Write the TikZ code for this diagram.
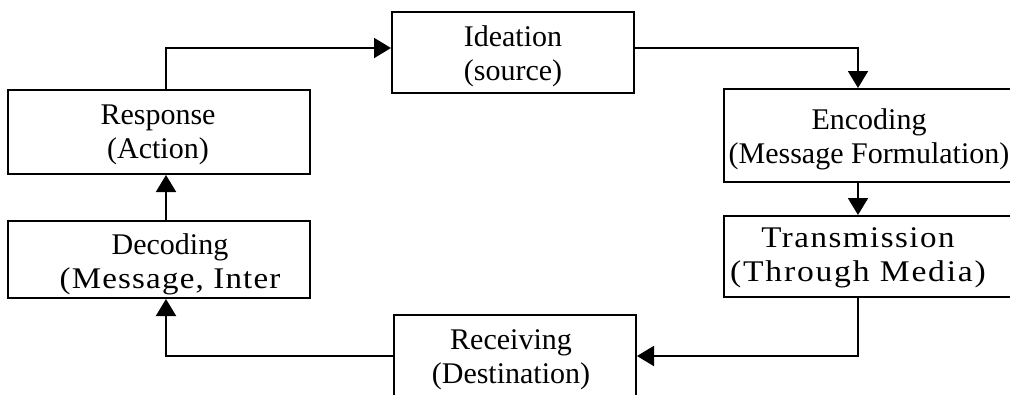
\documentclass[tikz,border=0pt]{standalone}
\usepackage{fontspec}
\setmainfont{Liberation Serif}
\usetikzlibrary{arrows.meta}
\newcommand{\widetext}[3]{{\addfontfeature{FakeStretch=#1,LetterSpace=#2}#3}}
\begin{document}
\begin{tikzpicture}[x=1pt,y=-1pt,
  box/.style={draw,line width=2pt,inner sep=0pt},
  txt/.style={align=center,inner sep=0pt,font=\fontsize{30}{34}\selectfont},
  arr/.style={line width=2pt,-{Triangle[length=17pt,width=20pt]}},
  line/.style={line width=2pt}]
\clip (0,0) rectangle (1010,394);
% stage boxes
\node[box,minimum width=302pt,minimum height=84pt] (resp) at (159,132) {};
\node[box,minimum width=302pt,minimum height=77pt] (dec)  at (159,259.5) {};
\node[box,minimum width=242pt,minimum height=81pt] (ide)  at (513,52.5) {};
\node[box,minimum width=242pt,minimum height=82pt] (rec)  at (515,356) {};
\node[box,minimum width=290pt,minimum height=93pt] (enc)  at (869,135.5) {};
\node[box,minimum width=290pt,minimum height=81pt] (tra)  at (869,256.5) {};
% stage labels
\node[txt] (resp-t) at (158,134.4) {Response\\(Action)};
\node[txt] (dec-t)  at (170,264.4) {Decoding\\\widetext{1.1}{4}{(Message, Inter}};
\node[txt] (ide-t)  at (513,56.4)  {Ideation\\(source)};
\node[txt] (rec-t)  at (511,359.4) {Receiving\\(Destination)};
\node[txt] (enc-t)  at (869,139.4) {Encoding\\(Message Formulation)};
\node[txt] (tra-t)  at (858,257.4) {\widetext{1.1}{5}{Transmission}\\\widetext{1.12}{6}{(Through Media)}};
% columns of the vertical connector runs
\coordinate (lx) at (166,0);
\coordinate (rx) at (858,0);
% cycle connectors
\draw[arr] (lx |- resp.north) |- ([yshift=4.5pt]ide.west);
\draw[arr] ([yshift=4.5pt]ide.east) -| (rx |- enc.north);
\draw[arr] (rx |- enc.south) -- (rx |- tra.north);
\draw[arr] (rx |- tra.south) |- (rec.east);
\draw[arr] (rec.west) -| (lx |- dec.south);
\draw[arr] (lx |- dec.north) -- (lx |- resp.south);
\end{tikzpicture}
\end{document}
